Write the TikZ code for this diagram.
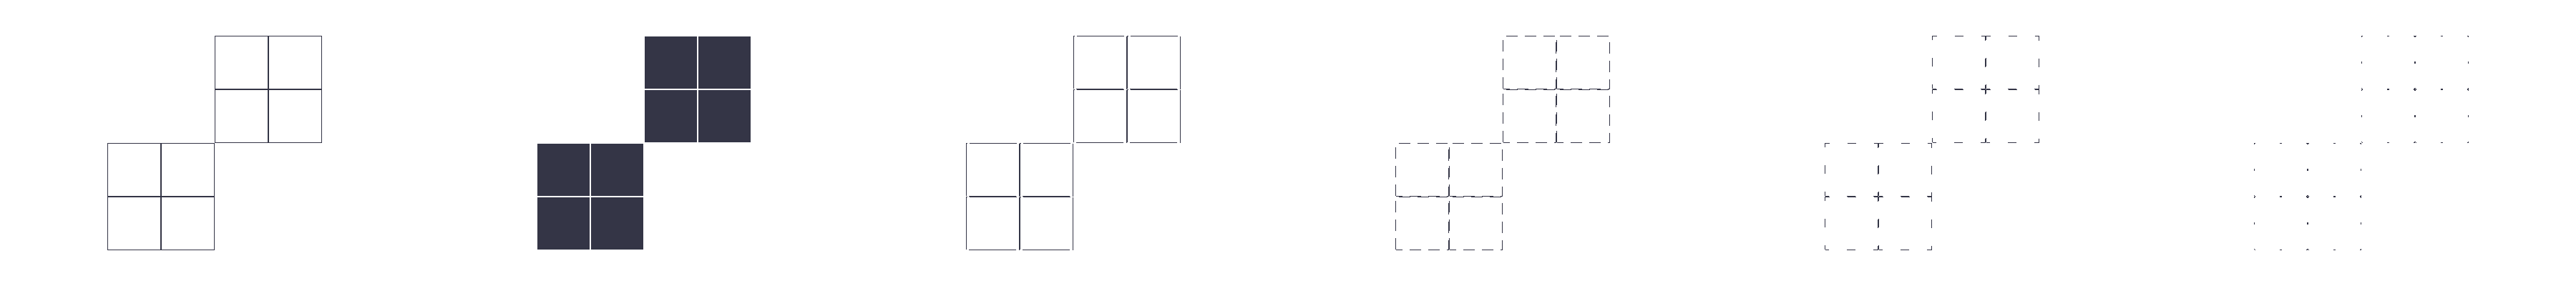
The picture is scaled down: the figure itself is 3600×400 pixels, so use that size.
\documentclass[tikz,border=0pt]{standalone}
\usepackage{tikz}
\definecolor{ink}{RGB}{52,53,70}

\begin{document}
\begin{tikzpicture}[x=0.01cm,y=0.01cm,
	tile/.style={draw=ink,line width=0.45pt},
	plaintile/.style={},
	solidtile/.style={fill=ink,draw=white,line width=0.29pt},
	gaptile/.style={dash pattern=on 0.74cm off 0.04cm on 0.66cm off 0.04cm},
	dashtile/.style={dash pattern=on 0.16cm off 0.10cm},
	sparsetile/.style={dash pattern=on 0.12cm off 0.25cm,dash phase=0.06cm},
	dottile/.style={dash pattern=on 0.03cm off 0.34cm,dash phase=0.015cm}]
	\useasboundingbox (0,0) rectangle (3600,400);
	\foreach \p/\look in {0/plaintile,1/solidtile,2/gaptile,3/dashtile,4/sparsetile,5/dottile} {
		\foreach \c in {0,1} {
			\foreach \r in {0,1} {
				\draw[tile,\look] ({150+600*\p+75*\c+0.5},{50+75*\r+0.5}) rectangle ++(74,74);
				\draw[tile,\look] ({300+600*\p+75*\c+0.5},{200+75*\r+0.5}) rectangle ++(74,74);
			}
		}
	}
\end{tikzpicture}
\end{document}
